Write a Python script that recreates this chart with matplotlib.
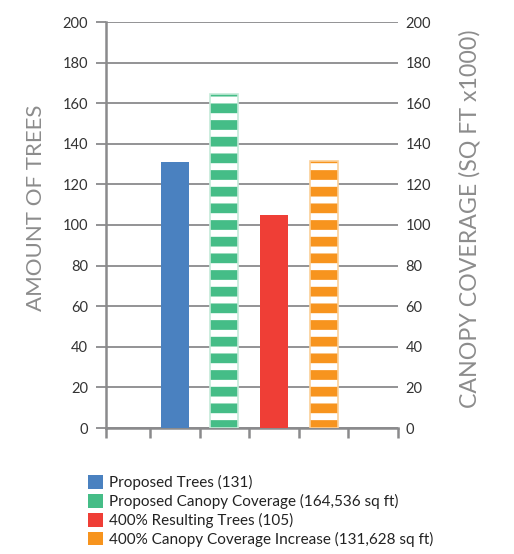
import matplotlib
matplotlib.use('Agg')
import matplotlib.pyplot as plt
from matplotlib.patches import Patch

plt.rcParams['font.family'] = ['Lato', 'DejaVu Sans']
plt.rcParams['hatch.linewidth'] = 7.0

# valores do grafico
slots = [0, 1, 2, 3, 4, 5]
bar_pos = [1, 2, 3, 4]
bar_vals = [131, 164.536, 105, 131.628]
bar_cols = ['#4a81c0', '#45bd87', '#ef3e36', '#f7941e']
bar_edges = [None, '#c4ead8', None, '#fbcf97']
bar_hatch = [None, '-', None, '-']
labels = ['Proposed Trees (131)',
          'Proposed Canopy Coverage (164,536 sq ft)',
          '400% Resulting Trees (105)',
          '400% Canopy Coverage Increase (131,628 sq ft)']
yticks = [0, 20, 40, 60, 80, 100, 120, 140, 160, 180, 200]

gray = '#8a8a8c'

fig = plt.figure(figsize=(5.14, 5.54), dpi=100)
ax = fig.add_axes([106/514, 1 - 428/554, 292/514, 406/554])

for p, v, c, e, h in zip(bar_pos, bar_vals, bar_cols, bar_edges, bar_hatch):
    if h:
        ax.bar(p, v, width=0.565, color='white', edgecolor=c, hatch=h, linewidth=0, zorder=3)
        ax.bar(p, v, width=0.565, fill=False, edgecolor=e, linewidth=1.2, zorder=4)
    else:
        ax.bar(p, v, width=0.565, color=c, linewidth=0, zorder=3)

# primeira faixa um pouco mais estreita
x0 = slots[0] - 0.39
ax.set_xlim(x0, slots[-1] + 0.5)
ax.set_ylim(0, 200)
ax.set_yticks(yticks)
ax.set_xticks([x0] + [s + 0.5 for s in slots])
ax.set_xticklabels([])
ax.grid(axis='y', color=gray, linewidth=1.3, zorder=0)
ax.set_axisbelow(True)

for s in ['top', 'right']:
    ax.spines[s].set_visible(False)
for s in ['left', 'bottom']:
    ax.spines[s].set_color(gray)
    ax.spines[s].set_linewidth(1.8)

ax.tick_params(axis='y', length=7, width=1.3, color=gray, labelsize=10.5,
               labelcolor='#333333', pad=6)
ax.tick_params(axis='x', length=7.5, width=1.8, color=gray)
ax.set_ylabel('AMOUNT OF TREES', fontsize=16, color='#8c8c8c', labelpad=12)
ax.yaxis.label.set_y(0.542)

ax2 = ax.twinx()
ax2.set_ylim(0, 200)
ax2.set_yticks(yticks)
for s in ax2.spines.values():
    s.set_visible(False)
ax2.tick_params(axis='y', length=0, labelsize=10.5, labelcolor='#333333', pad=5.5)
ax2.set_ylabel('CANOPY COVERAGE (SQ FT x1000)', fontsize=16.7, color='#8c8c8c', labelpad=20)
ax2.yaxis.label.set_y(0.515)

handles = [Patch(facecolor=bar_cols[0], linewidth=0),
           Patch(facecolor='white', edgecolor=bar_cols[1], hatch='---', linewidth=0),
           Patch(facecolor=bar_cols[2], linewidth=0),
           Patch(facecolor=bar_cols[3], linewidth=0)]
fig.legend(handles, labels, loc='upper left', bbox_to_anchor=(82/514, 1 - 469/554),
           frameon=False, fontsize=11, handlelength=1.0, handleheight=1.0,
           handletextpad=0.35, labelspacing=0.25, borderaxespad=0, labelcolor='#222222')

fig.savefig('out.png', dpi=100)
